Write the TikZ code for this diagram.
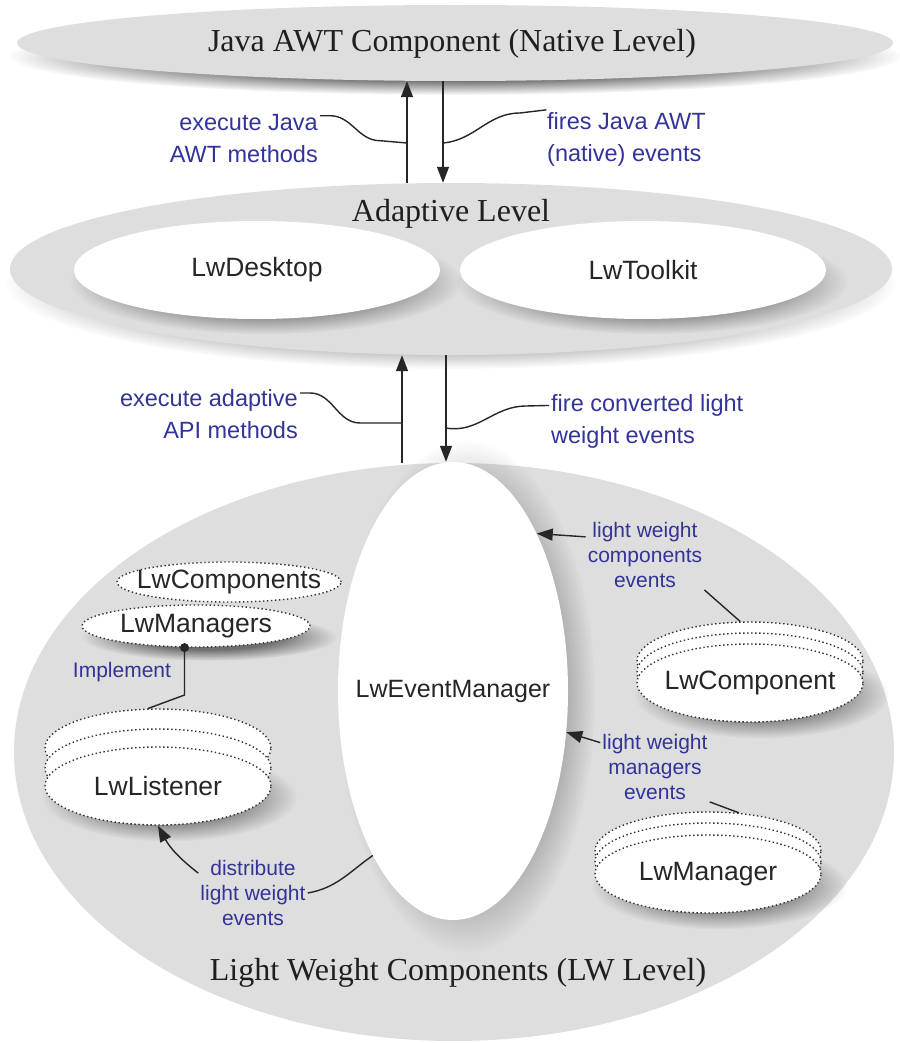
\documentclass[tikz,border=0pt]{standalone}
\usepackage{fontspec}
\setmainfont{Liberation Serif}
\setsansfont{Liberation Sans}
\usetikzlibrary{shapes.geometric,arrows.meta,shadows,fadings}
\definecolor{lvgray}{RGB}{222,222,222}
\definecolor{lblue}{RGB}{51,51,153}
\pgfdeclareradialshading{softfadeshade}{\pgfpointorigin}{color(0bp)=(white); color(13bp)=(white); color(25bp)=(black); color(50bp)=(black)}
\pgfdeclarefading{softfade}{\pgfuseshading{softfadeshade}}
\tikzset{
  softshadow/.style n args={4}{general shadow={fill=black, opacity=#3, path fading=softfade,
      shadow xshift=#1, shadow yshift=#2, shadow scale=#4}},
  levelell/.style={ellipse, fill=lvgray, inner sep=0pt},
  whiteell/.style={ellipse, fill=white, inner sep=0pt,
    font=\sffamily\fontsize{26.5}{30}\selectfont, text=black!85},
  dotell/.style={ellipse, draw=black!80, line width=1.4pt, dash pattern=on 1.4pt off 2.6pt,
    fill=white, inner sep=0pt, font=\sffamily\fontsize{26.5}{30}\selectfont, text=black!85},
  stackell/.style={dotell, minimum width=226pt, minimum height=78pt},
  lbl/.style={text=lblue, font=\sffamily\fontsize{23.5}{32}\selectfont, inner sep=2pt},
  slbl/.style={text=lblue, font=\sffamily\fontsize{21}{25}\selectfont, align=center, inner sep=2pt},
  arr/.style={draw=black!85, line width=1.4pt, -{Triangle[length=16pt,width=12pt]}},
  conn/.style={draw=black!85, line width=1.4pt},
  leveltitle/.style={font=\fontsize{32}{36}\selectfont, text=black!88, inner sep=0pt}
}
\begin{document}
\begin{tikzpicture}[x=1pt,y=-1pt]
\useasboundingbox (0,0) rectangle (899,1043);

% ---- level ellipses ----
\node[levelell, softshadow={0pt}{-13pt}{0.6}{1.01}, minimum width=882pt, minimum height=172pt] (adp) at (451,269) {};
\node[levelell, softshadow={0pt}{-13pt}{0.7}{1.02}, minimum width=876pt, minimum height=76pt] (nat) at (455,43) {};
\node[levelell, minimum width=880pt, minimum height=578pt] (lw) at (454,752) {};

\node[leveltitle, anchor=base] (tnat) at (452,52) {Java AWT Component (Native Level)};
\node[leveltitle, anchor=base] (tadp) at (451,221) {Adaptive Level};
\node[leveltitle, anchor=base] (tlw) at (458,980) {Light Weight Components (LW Level)};

% ---- adaptive level content ----
\node[whiteell, softshadow={8pt}{-11pt}{0.5}{1.07}, minimum width=366pt, minimum height=98pt] (dsk) at (257,270) {\makebox[0pt]{LwDesktop}};
\node[whiteell, softshadow={8pt}{-11pt}{0.5}{1.07}, minimum width=366pt, minimum height=98pt] (tlk) at (643,270) {\makebox[0pt]{LwToolkit}};

% ---- LW level content ----
\node[whiteell, softshadow={12pt}{-5pt}{0.45}{1.12}, minimum width=230pt, minimum height=458pt,
      font=\sffamily\fontsize{25}{30}\selectfont] (evm) at (453,691) {\makebox[0pt]{LwEventManager}};

\node[dotell, minimum width=224pt, minimum height=40pt] (cmps) at (229,582) {\makebox[0pt]{LwComponents}};
\node[dotell, softshadow={12pt}{-10pt}{0.5}{1.12}, minimum width=228pt, minimum height=42pt] (mgrs) at (196,626) {\makebox[0pt]{LwManagers}};

\node[stackell] (lst3) at (158,748) {};
\node[stackell] (lst2) at (158,768) {};
\node[stackell, softshadow={10pt}{-10pt}{0.45}{1.13}] (lst1) at (158,786) {\makebox[0pt]{LwListener}};

\node[stackell] (cmp3) at (750,661) {};
\node[stackell] (cmp2) at (750,672) {};
\node[stackell, softshadow={10pt}{-10pt}{0.45}{1.13}] (cmp1) at (750,683) {\makebox[0pt]{LwComponent}};

\node[stackell] (mgr3) at (708,851) {};
\node[stackell] (mgr2) at (708,862) {};
\node[stackell, softshadow={10pt}{-10pt}{0.45}{1.13}] (mgr1) at (708,874) {\makebox[0pt]{LwManager}};

% ---- labels ----
\node[lbl, anchor=east, align=right] (ej) at (320,139) {execute Java\\AWT methods};
\node[lbl, anchor=west, align=left] (fj) at (545,139) {fires Java AWT\\(native) events};
\node[lbl, anchor=east, align=right] (ea) at (300,414) {execute adaptive\\API methods};
\node[lbl, anchor=west, align=left] (fc) at (549,421) {fire converted light\\weight events};

\node[slbl] (lwc) at (645,555) {light weight\\components\\events};
\node[slbl] (lwm) at (655,767) {light weight\\managers\\events};
\node[slbl] (dist) at (253,893) {distribute\\light weight\\events};
\node[slbl] (impl) at (122,672) {Implement};

% ---- level arrows ----
\coordinate (u1) at (407,143);
\coordinate (d1) at (443,143);
\coordinate (u2) at (402,423);
\coordinate (d2) at (446,428);

\draw[arr] (adp.north -| u1) -- (nat.south -| u1);
\draw[arr] (nat.south -| d1) -- (adp.north -| d1);
\draw[arr] (lw.north -| u2) -- (adp.south -| u2);
\draw[arr] (adp.south -| d2) -- (evm.north -| d2);

\draw[conn] (ej.17) -- ++(10,0) to[out=0,in=180] ++(50,25) -- (u1);
\draw[conn] (d1) to[out=5,in=180] ++(77,-30) -- (fj.160);
\draw[conn] (ea.13) -- ++(10,0) to[out=0,in=180] ++(50,30) -- (u2);
\draw[conn] (d2) to[out=-10,in=180] ++(80,-22) -- (fc.171);

% ---- LW connectors ----
\draw[arr] (lwc.163) -- (evm.62);
\draw[arr] (lwm.156) -- (evm.-20);
\draw[conn] (lwc.south east) -- (cmp3.104);
\draw[conn] (lwm.south east) -- (mgr3.51);

\draw[conn] (evm.244) to[out=215,in=10] (dist.east);
\draw[arr] (dist.160) to[bend left=12] (lst1.south);

\node[circle, fill=black!85, inner sep=0pt, minimum size=9pt] (idot) at (mgrs.242) {};
\coordinate (ik) at (184,695);
\draw[conn] (idot.center) -- (idot.center |- ik) -- (lst3.104);
\end{tikzpicture}
\end{document}
